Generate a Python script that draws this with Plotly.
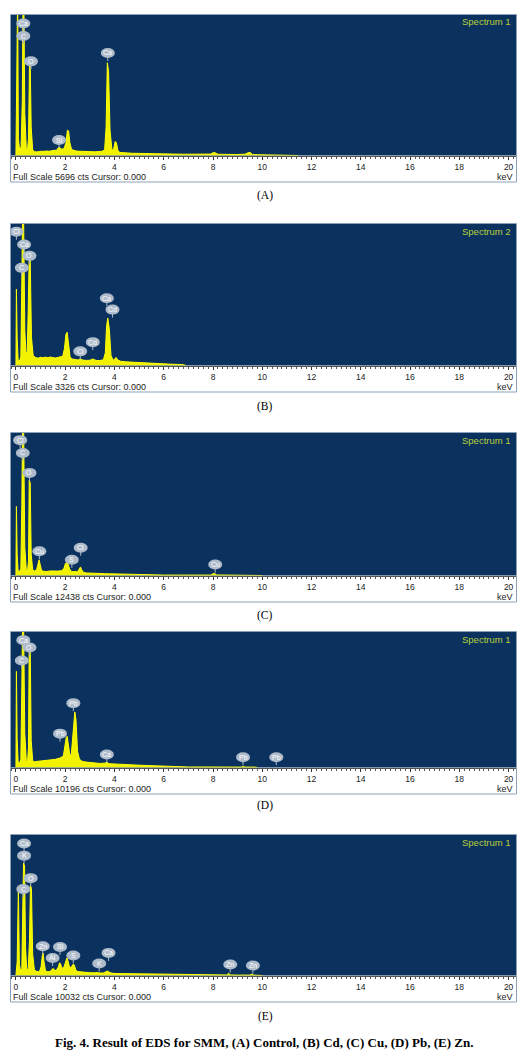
import plotly.graph_objects as go

W, H = 524, 1060

# ---------------- data ----------------
panel_letters = ["(A)", "(B)", "(C)", "(D)", "(E)"]
spectrum_names = ["Spectrum 1", "Spectrum 2", "Spectrum 1", "Spectrum 1", "Spectrum 1"]
full_scale_cts = [5696, 3326, 12438, 10196, 10032]

# Intensity in % of full scale
energy_A = [0.00, 0.04, 0.07, 0.10, 0.15, 0.21, 0.26, 0.29, 0.32, 0.36, 0.42, 0.47, 0.51, 0.55, 0.58, 0.62, 0.68,
            0.75, 0.85, 0.95, 1.05, 1.15, 1.25, 1.35, 1.45, 1.55, 1.65, 1.72, 1.78, 1.85, 1.95, 2.03, 2.09, 2.14,
            2.19, 2.26, 2.35, 2.45, 2.6, 2.75, 2.9, 3.05, 3.2, 3.35, 3.5, 3.6, 3.66, 3.71, 3.76, 3.82, 3.9, 3.97,
            4.03, 4.08, 4.14, 4.22, 4.35, 4.5, 4.7, 5.0, 5.3, 5.6, 6.0, 6.4, 6.8, 7.2, 7.6, 7.9, 8.02, 8.08, 8.2,
            8.5, 8.9, 9.3, 9.45, 9.52, 9.6, 9.8, 10.2, 10.6, 11.0, 11.3, 11.45]
pct_A = [0, 60, 115, 12, 4, 6, 40, 115, 115, 30, 5, 4, 12, 65, 66, 20, 4,
         2.8, 2.5, 2.9, 2.7, 3.0, 3.2, 3.0, 3.4, 3.6, 3.8, 5.5, 5.8, 4.5, 4.8, 9, 18, 17.5,
         9, 4.2, 3.6, 3.2, 3.0, 2.8, 3.0, 2.7, 2.6, 2.8, 3.0, 4, 20, 66, 60, 18, 3.5, 5,
         10, 9, 3.5, 2.2, 1.9, 1.7, 1.6, 1.5, 1.3, 1.2, 1.1, 1.0, 0.9, 0.8, 0.8, 1.0, 2.2, 2.0, 0.9,
         0.7, 0.7, 0.9, 2.2, 2.0, 0.8, 0.6, 0.5, 0.5, 0.4, 0.3, 0]

energy_B = [0, 0.02, 0.05, 0.09, 0.14, 0.2, 0.24, 0.27, 0.31, 0.36, 0.41, 0.46, 0.5, 0.54, 0.58, 0.63, 0.7, 0.8,
            0.9, 1.0, 1.1, 1.2, 1.3, 1.4, 1.5, 1.6, 1.7, 1.8, 1.9, 1.97, 2.03, 2.08, 2.14, 2.2, 2.28, 2.4, 2.52,
            2.62, 2.72, 2.85, 3.0, 3.13, 3.25, 3.4, 3.55, 3.63, 3.68, 3.73, 3.79, 3.86, 3.95, 4.02, 4.07, 4.13,
            4.25, 4.45, 4.7, 5.0, 5.3, 5.6, 5.9, 6.2, 6.5, 6.8, 6.9]
pct_B = [0, 54, 20, 4, 3, 6, 60, 108, 108, 25, 8, 10, 40, 78, 76, 20, 7, 5.6,
         5.2, 5.8, 5.4, 5.9, 5.5, 6.0, 5.6, 5.3, 5.7, 5.9, 6.5, 12, 22, 23.5, 14, 6, 4.6, 4.2, 3.9,
         4.6, 3.8, 3.6, 3.7, 4.6, 3.6, 3.5, 4, 9, 28, 33.5, 26, 7, 3.6, 5, 5.6, 4,
         3, 2.6, 2.3, 2.0, 1.7, 1.4, 1.2, 1.0, 0.8, 0.6, 0]

energy_C = [0, 0.02, 0.05, 0.09, 0.14, 0.2, 0.24, 0.27, 0.31, 0.36, 0.42, 0.47, 0.51, 0.54, 0.58, 0.62, 0.68,
            0.75, 0.84, 0.9, 0.94, 0.98, 1.04, 1.12, 1.25, 1.4, 1.55, 1.7, 1.85, 1.95, 2.01, 2.06, 2.12, 2.18,
            2.26, 2.38, 2.5, 2.57, 2.62, 2.67, 2.74, 2.85, 3.0, 3.2, 3.4, 3.6, 3.8, 4.0, 4.3, 4.6, 4.85, 5.0,
            5.5, 6.0, 6.5, 7.0, 7.5, 7.9, 8.0, 8.06, 8.15, 8.4, 8.8, 9.2, 9.6, 10.0]
pct_C = [0, 48.5, 15, 3, 2.5, 5, 50, 108, 108, 20, 4, 3, 10, 67, 65, 15, 4,
         3.2, 4, 9, 11, 8, 3.5, 3.0, 2.8, 3.2, 2.9, 3.1, 3.4, 5, 8.5, 9, 8, 4.5,
         2.8, 2.5, 2.6, 4.5, 6, 4, 2.2, 1.8, 1.6, 1.5, 1.4, 1.3, 1.2, 1.1, 1.0, 0.9, 0.8, 0.3,
         0.3, 0.3, 0.3, 0.3, 0.3, 0.3, 1.2, 1.5, 0.4, 0.3, 0.3, 0.3, 0.3, 0]

energy_D = [0, 0.02, 0.05, 0.09, 0.14, 0.2, 0.24, 0.27, 0.31, 0.36, 0.42, 0.47, 0.51, 0.54, 0.58, 0.62, 0.68,
            0.75, 0.85, 1.0, 1.15, 1.3, 1.45, 1.6, 1.75, 1.85, 1.93, 1.99, 2.04, 2.08, 2.13, 2.19, 2.25, 2.3,
            2.35, 2.39, 2.44, 2.5, 2.58, 2.7, 2.85, 3.0, 3.2, 3.4, 3.6, 3.69, 3.78, 4.0, 4.3, 4.6, 5.0, 5.4,
            5.8, 6.2, 6.4, 7.0, 7.6, 8.2, 8.8, 9.15, 9.22, 9.3, 9.7, 9.8]
pct_D = [0, 71, 22, 4, 3, 6, 60, 108, 108, 25, 5, 4, 15, 93, 90, 20, 5,
         4.2, 4.5, 4.8, 5.0, 5.4, 5.6, 6.0, 6.8, 7.5, 9, 16, 22, 23, 18, 9, 10, 22,
         38, 41, 35, 12, 6, 4.5, 4, 3.6, 3.3, 3.0, 3.2, 3.8, 2.8, 2.5, 2.2, 2.0, 1.7, 1.4,
         1.1, 0.8, 0.5, 0.4, 0.4, 0.3, 0.3, 0.3, 0.8, 0.3, 0.3, 0]

energy_E = [0, 0.05, 0.1, 0.14, 0.19, 0.24, 0.28, 0.31, 0.35, 0.39, 0.44, 0.5, 0.55, 0.59, 0.63, 0.68, 0.75,
            0.85, 0.95, 1.02, 1.07, 1.1, 1.14, 1.2, 1.3, 1.4, 1.47, 1.52, 1.58, 1.65, 1.72, 1.77, 1.81, 1.87,
            1.95, 2.02, 2.07, 2.12, 2.18, 2.25, 2.32, 2.37, 2.43, 2.5, 2.65, 2.8, 3.0, 3.2, 3.3, 3.4, 3.55,
            3.65, 3.71, 3.78, 3.9, 4.1, 4.4, 4.8, 5.2, 5.6, 6.0, 6.5, 7.0, 7.3, 7.8, 8.2, 8.55, 8.63, 8.72,
            9.0, 9.5, 9.57, 9.65, 10.0]
pct_E = [0, 10, 63, 8, 3, 5, 50, 80, 78, 20, 4, 5, 25, 64, 62, 15, 4,
         2.8, 2.6, 6, 14, 16, 10, 3.2, 2.6, 3.0, 4.5, 5, 3.5, 4, 6, 9, 8.5, 5,
         6, 11, 12.5, 10, 5.5, 6, 8, 7.5, 4, 2.8, 2.4, 2.2, 2.0, 1.9, 2.2, 1.8, 1.8,
         2.6, 3.2, 2.4, 1.6, 1.4, 1.3, 1.2, 1.1, 1.0, 0.9, 0.8, 0.7, 0.5, 0.3, 0.3, 0.4, 1.5, 0.4,
         0.3, 0.3, 1.0, 0.3, 0]

# Peak labels: (element, keV, label height in % of full scale)
labels_A = [("Ca", 0.30, 94), ("C", 0.30, 85), ("O", 0.61, 67), ("Si", 1.75, 11), ("Ca", 3.73, 73)]
labels_B = [("Cl", 0.02, 94.5), ("Ca", 0.33, 85.5), ("O", 0.55, 77.5), ("C", 0.24, 69),
            ("Ca", 3.69, 47.5), ("Cd", 3.92, 39.5), ("Cd", 3.12, 16.5), ("Cl", 2.61, 10)]
labels_C = [("Cl", 0.17, 95), ("C", 0.28, 86), ("O", 0.55, 72), ("Cu", 0.95, 17),
            ("Cl", 2.63, 19.5), ("S", 2.27, 11), ("Cu", 8.09, 7.7)]
labels_D = [("Ca", 0.30, 94), ("O", 0.55, 88.5), ("C", 0.24, 79), ("Pb", 2.33, 47.5),
            ("Pb", 1.79, 25), ("Ca", 3.69, 9.6), ("Pb", 9.22, 7.6), ("Pb", 10.57, 7.6)]
labels_E = [("Ca", 0.33, 94), ("K", 0.33, 85.3), ("O", 0.60, 69.3), ("C", 0.30, 61.5),
            ("Zn", 1.09, 20.8), ("Si", 1.79, 20.3), ("Al", 1.49, 12.5), ("S", 2.33, 14.2),
            ("Ca", 3.76, 16.1), ("K", 3.38, 8.5), ("Zn", 8.70, 7.8), ("Zn", 9.62, 7.1)]

energies = [energy_A, energy_B, energy_C, energy_D, energy_E]
intensities = [pct_A, pct_B, pct_C, pct_D, pct_E]
peak_labels = [labels_A, labels_B, labels_C, labels_D, labels_E]

caption = "Fig. 4. Result of EDS for SMM, (A) Control, (B) Cd, (C) Cu, (D) Pb, (E) Zn."

# ---------------- layout geometry (pixels) ----------------
panel_top = [15, 224, 433, 632, 835]
panel_axis = [155.5, 365.5, 575.5, 767.5, 975.5]
panel_letter_y = [196, 406, 615, 805, 1016]
box_left, box_right = 11, 516

BLUE = "#0b325f"
YELLOW = "#ffff00"
LABEL_FILL = "#aebbca"
GREEN = "#b9cf3a"
BORDER = "#8aa1b9"
SANS = "Liberation Sans, Arial"
SERIF = "Liberation Serif, Times New Roman"


def py(px):
    return 1 - px / H


def pxx(px):
    return px / W


fig = go.Figure()
shapes = []
annotations = []
layout = dict(width=W, height=H, margin=dict(l=0, r=0, t=0, b=0),
              paper_bgcolor="white", plot_bgcolor=BLUE, showlegend=False)

for i in range(5):
    n = i + 1
    xs = "x" if n == 1 else f"x{n}"
    ys = "y" if n == 1 else f"y{n}"
    xk = "xaxis" if n == 1 else f"xaxis{n}"
    yk = "yaxis" if n == 1 else f"yaxis{n}"
    assert len(energies[i]) == len(intensities[i]), (i, len(energies[i]), len(intensities[i]))

    fig.add_trace(go.Scatter(x=energies[i], y=intensities[i], mode="lines",
                             line=dict(color=YELLOW, width=1), fill="tozeroy",
                             fillcolor="#f2f200", xaxis=xs, yaxis=ys, hoverinfo="skip"))

    top, ax = panel_top[i], panel_axis[i]
    layout[xk] = dict(domain=[pxx(box_left), pxx(box_right)], range=[-0.2, 20.3], anchor=ys,
                      tickmode="linear", tick0=0, dtick=2, ticks="outside", ticklen=3,
                      tickcolor="#333", tickwidth=1, showgrid=False, zeroline=False,
                      showline=True, linecolor="#555", linewidth=1,
                      tickfont=dict(family=SANS, size=8.5, color="#222"),
                      minor=dict(dtick=0.2, ticks="outside", ticklen=2, tickcolor="#555", showgrid=False),
                      fixedrange=True)
    layout[yk] = dict(domain=[py(ax), py(top)], range=[0, 100], anchor=xs, visible=False,
                      showgrid=False, zeroline=False, fixedrange=True)

    # panel border
    shapes.append(dict(type="rect", xref="paper", yref="paper",
                       x0=pxx(box_left - 0.5), x1=pxx(box_right + 0.5),
                       y0=py(ax + 26.5), y1=py(top - 0.5),
                       line=dict(color=BORDER, width=1), fillcolor="rgba(0,0,0,0)", layer="above"))

    # peak labels
    for (el, kev, h) in peak_labels[i]:
        shapes.append(dict(type="line", xref=xs, yref=ys, xsizemode="pixel", ysizemode="pixel",
                           xanchor=kev, yanchor=h, x0=0, x1=0, y0=-4, y1=-8,
                           line=dict(color=LABEL_FILL, width=1), layer="above"))
        shapes.append(dict(type="circle", xref=xs, yref=ys, xsizemode="pixel", ysizemode="pixel",
                           xanchor=kev, yanchor=h, x0=-7, x1=7, y0=-5, y1=5,
                           fillcolor=LABEL_FILL, line=dict(width=0), layer="above"))
        annotations.append(dict(x=kev, y=h, xref=xs, yref=ys, text=el, showarrow=False,
                                font=dict(family=SANS, size=7, color="white"),
                                xanchor="center", yanchor="middle"))

    # spectrum name
    annotations.append(dict(x=pxx(513), y=py(top + 7), xref="paper", yref="paper",
                            text=spectrum_names[i], showarrow=False, xanchor="right", yanchor="middle",
                            font=dict(family=SANS, size=9.5, color=GREEN)))
    # full scale text
    annotations.append(dict(x=pxx(11), y=py(ax + 21), xref="paper", yref="paper",
                            text=f"Full Scale {full_scale_cts[i]} cts Cursor: 0.000", showarrow=False,
                            xanchor="left", yanchor="middle",
                            font=dict(family=SANS, size=9, color="#222")))
    annotations.append(dict(x=pxx(515), y=py(ax + 21), xref="paper", yref="paper",
                            text="keV", showarrow=False, xanchor="right", yanchor="middle",
                            font=dict(family=SANS, size=9, color="#222")))
    # panel letter
    annotations.append(dict(x=pxx(265), y=py(panel_letter_y[i]), xref="paper", yref="paper",
                            text=panel_letters[i], showarrow=False, xanchor="center", yanchor="middle",
                            font=dict(family=SERIF, size=11.5, color="black")))

annotations.append(dict(x=pxx(264), y=py(1042), xref="paper", yref="paper",
                        text=f"<b>{caption}</b>", showarrow=False, xanchor="center", yanchor="middle",
                        font=dict(family=SERIF, size=13, color="black")))

layout["shapes"] = shapes
layout["annotations"] = annotations
fig.update_layout(**layout)
fig.write_html("out.html")
